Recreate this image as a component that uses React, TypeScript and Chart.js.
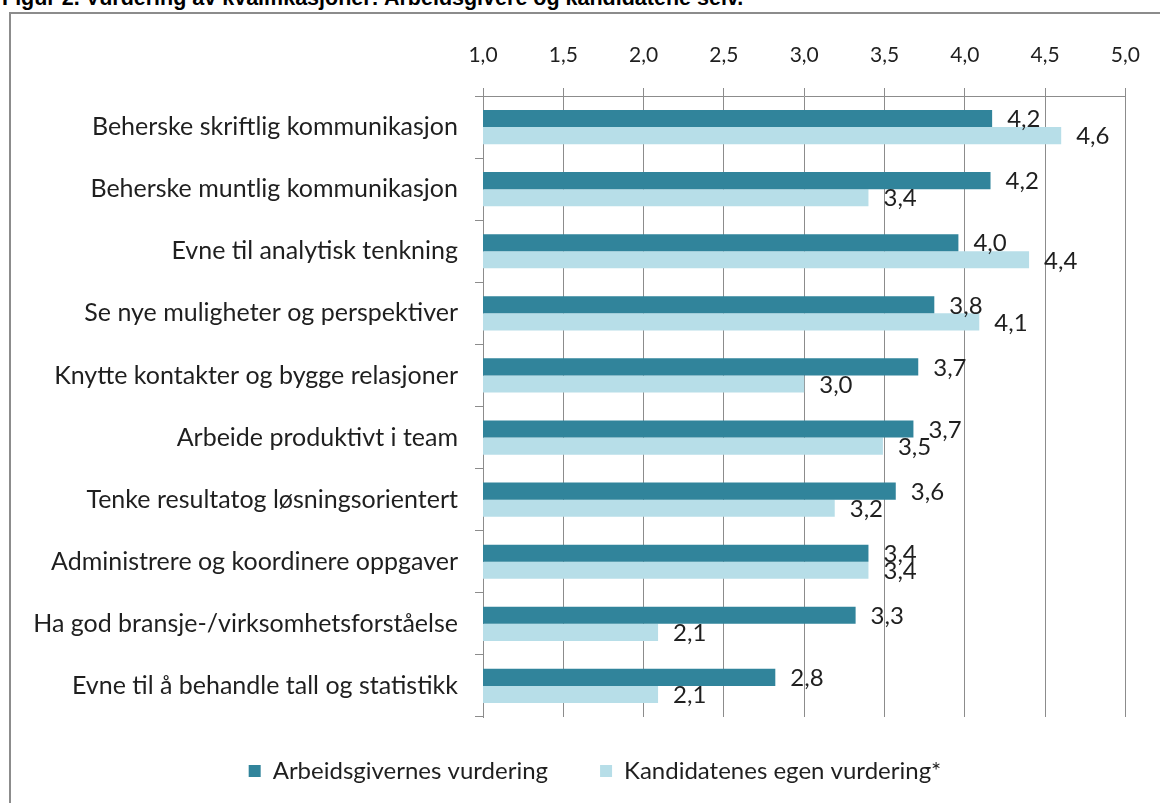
import React, { useEffect, useRef } from "react";
import { Chart, registerables } from "chart.js";

Chart.register(...registerables);

const categories = [
  "Beherske skriftlig kommunikasjon",
  "Beherske muntlig kommunikasjon",
  "Evne til analytisk tenkning",
  "Se nye muligheter og perspektiver",
  "Knytte kontakter og bygge relasjoner",
  "Arbeide produktivt i team",
  "Tenke resultatog løsningsorientert",
  "Administrere og koordinere oppgaver",
  "Ha god bransje-/virksomhetsforståelse",
  "Evne til å behandle tall og statistikk",
];

const employers = [4.17, 4.16, 3.96, 3.81, 3.71, 3.68, 3.57, 3.4, 3.32, 2.82];
const candidates = [4.6, 3.4, 4.4, 4.09, 3.0, 3.49, 3.19, 3.4, 2.09, 2.09];

const seriesNames = ["Arbeidsgivernes vurdering", "Kandidatenes egen vurdering*"];
const xTicks = [1.0, 1.5, 2.0, 2.5, 3.0, 3.5, 4.0, 4.5, 5.0];

const titleText = "Figur 2. Vurdering av kvalifikasjoner: Arbeidsgivere og kandidatene selv.";

const fmt = (v: number) => v.toFixed(1).replace(".", ",");

const valueLabels = {
  id: "valueLabels",
  afterDatasetsDraw(chart: any) {
    const ctx = chart.ctx;
    ctx.save();
    ctx.font = "24px Lato";
    ctx.fillStyle = "#1f1f1f";
    ctx.textAlign = "left";
    ctx.textBaseline = "middle";
    chart.data.datasets.forEach((ds: any, i: number) => {
      const meta = chart.getDatasetMeta(i);
      meta.data.forEach((el: any, j: number) => {
        ctx.fillText(fmt(ds.data[j]), el.x + 15, el.y + 1);
      });
    });
    ctx.restore();
  },
};

// move the legend box so that it is centred like the reference
const legendShift = {
  id: "legendShift",
  afterLayout(chart: any) {
    const lg = chart.legend;
    if (!lg) return;
    lg.left += 51;
    lg.top -= 10;
    lg.bottom -= 10;
  },
};

export default function App() {
  const ref = useRef<HTMLCanvasElement>(null);

  useEffect(() => {
    if (!ref.current) return;
    Chart.defaults.font.family = "Lato";
    Chart.defaults.color = "#1f1f1f";
    const gridColor = "#8c8c8c";
    const chart = new Chart(ref.current, {
      type: "bar",
      data: {
        labels: categories,
        datasets: [
          {
            label: seriesNames[0],
            data: employers,
            backgroundColor: "#31849B",
            borderWidth: 0,
            categoryPercentage: 0.55,
            barPercentage: 1.0,
          },
          {
            label: seriesNames[1],
            data: candidates,
            backgroundColor: "#B7DEE8",
            borderWidth: 0,
            categoryPercentage: 0.55,
            barPercentage: 1.0,
          },
        ],
      },
      options: {
        indexAxis: "y",
        animation: false,
        responsive: false,
        maintainAspectRatio: false,
        layout: { padding: { left: 0, right: 32, top: 0, bottom: 0 } },
        plugins: {
          legend: {
            position: "bottom",
            labels: {
              boxWidth: 12,
              boxHeight: 12,
              padding: 52,
              font: { size: 24, family: "Lato" },
              color: "#1f1f1f",
            },
          },
          tooltip: { enabled: false },
          title: { display: false },
        },
        scales: {
          x: {
            position: "top",
            min: 1,
            max: 5,
            afterBuildTicks: (scale: any) => {
              scale.ticks = xTicks.map((v) => ({ value: v }));
            },
            afterFit: (scale: any) => {
              scale.height = 82;
            },
            ticks: {
              callback: (v: any) => fmt(Number(v)),
              font: { size: 21, family: "Lato" },
              color: "#1f1f1f",
              padding: 20,
              maxRotation: 0,
            },
            grid: {
              color: gridColor,
              lineWidth: 1,
              tickLength: 8,
              drawTicks: true,
            },
            border: { display: true, color: gridColor, width: 1 },
          },
          y: {
            afterFit: (scale: any) => {
              scale.width = 472;
            },
            ticks: {
              font: { size: 25, family: "Lato" },
              color: "#1f1f1f",
              padding: 17,
            },
            grid: {
              offset: true,
              drawOnChartArea: false,
              drawTicks: true,
              tickLength: 8,
              color: gridColor,
            },
            border: { display: true, color: gridColor, width: 1 },
          },
        },
      },
      plugins: [valueLabels, legendShift],
    });
    return () => chart.destroy();
  }, []);

  return (
    <div style={{ position: "fixed", inset: 0, overflow: "hidden", background: "#fff" }}>
      <div
        style={{
          position: "absolute",
          left: 2,
          top: -12,
          font: "bold 21.5px 'Liberation Sans', Arial, sans-serif",
          lineHeight: "21px",
          whiteSpace: "nowrap",
          color: "#000",
        }}
      >
        {titleText}
      </div>
      <div
        style={{
          position: "absolute",
          left: 9,
          top: 12,
          width: 1300,
          height: 1000,
          border: "2px solid #8c8c8c",
        }}
      />
      <canvas
        ref={ref}
        width={1149}
        height={789}
        style={{ position: "absolute", left: 11, top: 14, width: 1149, height: 789 }}
      />
    </div>
  );
}
